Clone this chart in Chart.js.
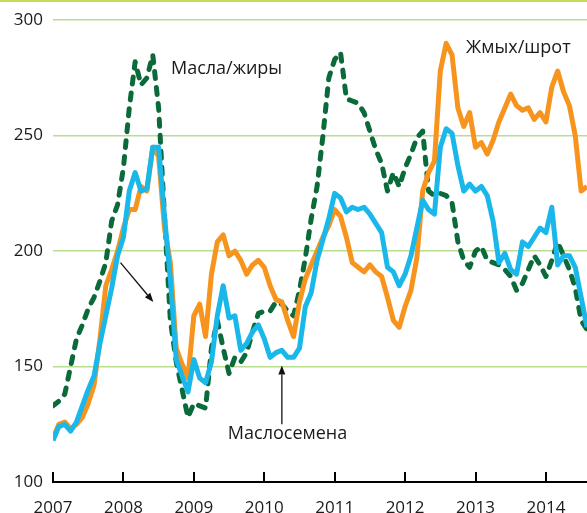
<!DOCTYPE html>
<html>
<head>
<meta charset="utf-8">
<script src="https://cdn.jsdelivr.net/npm/chart.js@4.4.0/dist/chart.umd.min.js"></script>
<style>
  html, body { margin: 0; padding: 0; background: #fff; }
  #wrap { width: 587px; height: 513px; position: relative; }
</style>
</head>
<body>
<div id="wrap"><canvas id="chart"></canvas></div>
<script>
// monthly index, 0 = Jan 2007
const yearLabels = ['2007', '2008', '2009', '2010', '2011', '2012', '2013', '2014'];

const oils = [133, 135, 138, 150, 162, 168, 175, 180, 187, 195, 213, 220,
  236, 262, 282, 272, 275, 285, 262, 215, 170, 152, 140, 128,
  134, 133, 132, 158, 170, 158, 147, 154, 152, 156, 165, 173,
  174, 174, 178, 177, 174, 172, 183, 197, 214, 228, 250, 275,
  283, 286, 266, 265, 264, 260, 252, 244, 238, 226, 234, 228,
  236, 242, 249, 252, 226, 224, 225, 224, 221, 204, 196, 193,
  200, 202, 196, 195, 194, 192, 189, 183, 186, 192, 198, 194,
  189, 196, 204, 198, 192, 184, 170, 166];

const seeds = [118, 124, 125, 122, 126, 133, 140, 146, 160, 172, 184, 198,
  206, 226, 234, 226, 227, 245, 245, 215, 188, 153, 146, 139,
  153, 145, 143, 152, 172, 185, 171, 172, 157, 160, 165, 168,
  162, 154, 156, 157, 154, 154, 158, 176, 182, 196, 205, 214,
  225, 223, 217, 219, 218, 219, 216, 212, 208, 193, 191, 185,
  190, 198, 210, 222, 218, 216, 245, 253, 251, 237, 226, 229,
  226, 228, 224, 213, 195, 199, 192, 190, 204, 202, 206, 210,
  208, 219, 194, 198, 198, 193, 180, 167];

const meal = [119, 125, 126, 123, 125, 128, 134, 142, 162, 185, 192, 200,
  210, 218, 218, 228, 226, 245, 241, 210, 195, 158, 151, 145,
  172, 177, 163, 190, 204, 207, 198, 200, 196, 190, 194, 196,
  193, 185, 179, 178, 170, 163, 178, 188, 194, 200, 206, 211,
  218, 215, 206, 195, 193, 191, 194, 191, 189, 180, 170, 167,
  176, 183, 197, 226, 234, 239, 278, 290, 285, 262, 254, 260,
  245, 247, 242, 248, 256, 262, 268, 263, 261, 262, 257, 260,
  256, 271, 278, 269, 263, 250, 226, 228];

// annotations in data units [month, value]
const notes = [
  { text: 'Масла/жиры', at: [20.1, 279] },
  { text: 'Жмых/шрот', at: [70.4, 288] },
  { text: 'Маслосемена', at: [29.8, 121] },
];
const arrows = [
  { from: [11.5, 195], to: [17.1, 178] },
  { from: [39.0, 125], to: [39.0, 150.5] },
];

const FONT = "'Open Sans', 'Noto Sans', sans-serif";
const TXT = '#1a1a1a';

function toXY(scales, p) {
  return [scales.x.getPixelForValue(p[0]), scales.y.getPixelForValue(p[1])];
}

const decor = {
  id: 'decor',
  beforeDraw(chart) {
    const { ctx, width } = chart;
    ctx.save();
    ctx.fillStyle = '#c6da55';
    ctx.fillRect(0, 0, width, 2);
    ctx.restore();
  },
  afterDraw(chart) {
    const { ctx, scales, chartArea } = chart;
    ctx.save();
    // year ticks pointing up from the axis
    ctx.strokeStyle = '#000';
    ctx.lineWidth = 2;
    yearLabels.forEach((l, i) => {
      const x = Math.round(scales.x.getPixelForValue(i * 12));
      ctx.beginPath();
      ctx.moveTo(x, chartArea.bottom);
      ctx.lineTo(x, chartArea.bottom - 10);
      ctx.stroke();
    });
    // labels
    ctx.font = '18px ' + FONT;
    ctx.fillStyle = TXT;
    ctx.textBaseline = 'middle';
    notes.forEach(n => {
      const [x, y] = toXY(scales, n.at);
      ctx.fillText(n.text, x, y);
    });
    // arrows
    ctx.strokeStyle = '#111';
    ctx.fillStyle = '#111';
    ctx.lineWidth = 1.3;
    arrows.forEach(a => {
      const [x1, y1] = toXY(scales, a.from);
      const [x2, y2] = toXY(scales, a.to);
      const ang = Math.atan2(y2 - y1, x2 - x1);
      const hl = 9, hw = 3.5;
      const bx = x2 - hl * Math.cos(ang), by = y2 - hl * Math.sin(ang);
      ctx.beginPath();
      ctx.moveTo(x1, y1);
      ctx.lineTo(bx, by);
      ctx.stroke();
      ctx.beginPath();
      ctx.moveTo(x2, y2);
      ctx.lineTo(bx + hw * Math.sin(ang), by - hw * Math.cos(ang));
      ctx.lineTo(bx - hw * Math.sin(ang), by + hw * Math.cos(ang));
      ctx.closePath();
      ctx.fill();
    });
    ctx.restore();
  },
};

function series(data, color, dash) {
  return {
    data: data.map((v, i) => ({ x: i, y: v })),
    borderColor: color,
    borderWidth: 5,
    borderDash: dash || [],
    borderCapStyle: dash ? 'round' : 'butt',
    borderJoinStyle: 'round',
    pointRadius: 0,
    tension: 0,
    fill: false,
  };
}

new Chart(document.getElementById('chart'), {
  type: 'line',
  data: {
    datasets: [
      series(seeds, '#19b7ea'),
      series(meal, '#f7941e'),
      series(oils, '#0a6a3a', [7, 9]),
    ],
  },
  options: {
    responsive: true,
    maintainAspectRatio: false,
    animation: false,
    layout: { padding: { top: 20, right: 0, left: 0, bottom: 0 } },
    plugins: { legend: { display: false }, tooltip: { enabled: false } },
    scales: {
      x: {
        type: 'linear',
        min: 0,
        max: 91,
        afterBuildTicks: (scale) => {
          scale.ticks = yearLabels.map((l, i) => ({ value: i * 12 }));
        },
        afterFit: (scale) => { scale.height = 31; },
        grid: { display: false, drawTicks: false },
        border: { display: true, color: '#000', width: 2 },
        ticks: {
          padding: 16,
          color: TXT,
          font: { size: 17, family: FONT },
          maxRotation: 0,
          autoSkip: false,
          callback: (v) => yearLabels[v / 12],
        },
      },
      y: {
        min: 100,
        max: 300,
        afterFit: (scale) => { scale.width = 53; },
        grid: {
          color: (c) => c.tick.value === 100 ? 'rgba(0,0,0,0)' : '#b9de8f',
          lineWidth: 1.5,
          drawTicks: false,
        },
        border: { display: false },
        ticks: {
          stepSize: 50,
          padding: 10,
          color: TXT,
          font: { size: 17, family: FONT },
        },
      },
    },
  },
  plugins: [decor],
});
</script>
</body>
</html>
